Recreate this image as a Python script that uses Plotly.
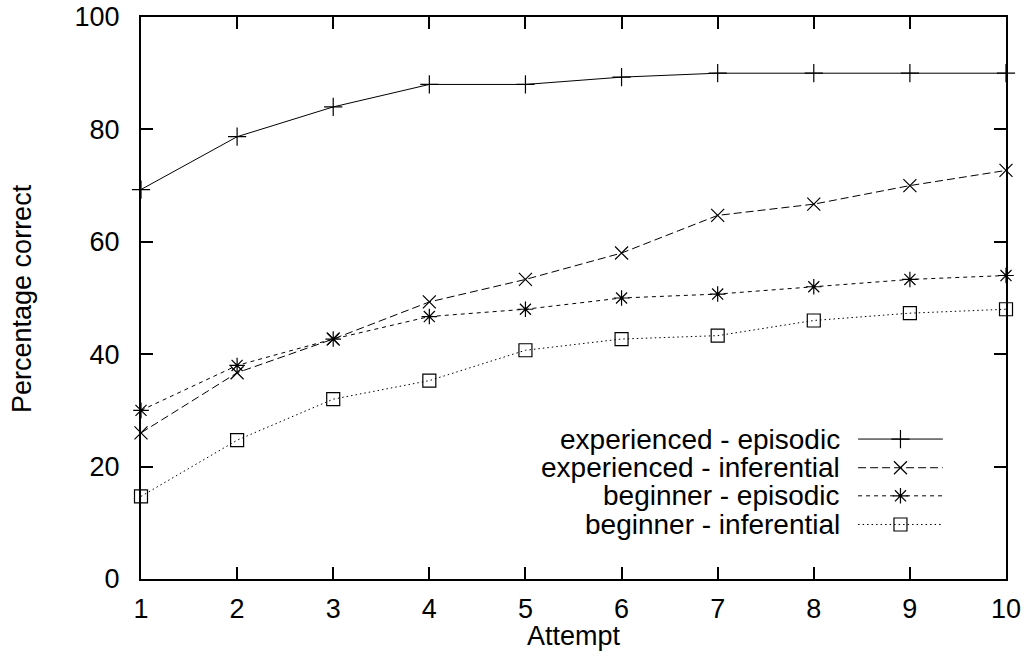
import plotly.graph_objects as go

attempts = [1, 2, 3, 4, 5, 6, 7, 8, 9, 10]
exp_episodic = [69.3, 78.7, 84.0, 88.0, 88.0, 89.3, 90.0, 90.0, 90.0, 90.0]
exp_inferential = [26.0, 36.7, 42.7, 49.3, 53.3, 58.0, 64.7, 66.7, 70.0, 72.7]
beg_episodic = [30.0, 38.0, 42.7, 46.7, 48.0, 50.0, 50.7, 52.0, 53.3, 54.0]
beg_inferential = [14.7, 24.7, 32.0, 35.3, 40.7, 42.7, 43.3, 46.0, 47.3, 48.0]

series_names = ["experienced - episodic", "experienced - inferential",
                "beginner - episodic", "beginner - inferential"]
series_values = [exp_episodic, exp_inferential, beg_episodic, beg_inferential]
y_ticks = [0, 20, 40, 60, 80, 100]

dashes = ["solid", "8px,4px", "4px,4px", "1.5px,3px"]
symbols = ["cross-thin-open", "x-thin-open", "asterisk-open", "square-open"]
sizes = [13, 13, 13, 13]

FONT = "Liberation Sans, Arial, Helvetica, sans-serif"
fig = go.Figure()

for name, vals, d, s, sz in zip(series_names, series_values, dashes, symbols, sizes):
    fig.add_trace(go.Scatter(
        x=attempts, y=vals, name=name, mode="lines+markers",
        line=dict(color="black", width=1, dash=d),
        marker=dict(symbol=s, size=sz, color="black", line=dict(color="black", width=1.2)),
        showlegend=False, cliponaxis=False,
    ))

# hand-made legend (text left, sample right) on an overlay axis [0,1]
leg_rows = [0.249, 0.198, 0.148, 0.097]
leg_x0, leg_x1, leg_text_x = 0.829, 0.927, 0.809
for name, d, s, sz, ly in zip(series_names, dashes, symbols, sizes, leg_rows):
    fig.add_trace(go.Scatter(
        x=[leg_x0, leg_x1], y=[ly, ly], mode="lines", xaxis="x2", yaxis="y2",
        line=dict(color="black", width=1, dash=d), showlegend=False, hoverinfo="skip"))
    fig.add_trace(go.Scatter(
        x=[(leg_x0 + leg_x1) / 2], y=[ly], mode="markers", xaxis="x2", yaxis="y2",
        marker=dict(symbol=s, size=sz, color="black", line=dict(color="black", width=1.2)),
        showlegend=False, hoverinfo="skip"))
    fig.add_annotation(x=leg_text_x, y=ly, xref="x2", yref="y2", text=name,
                       showarrow=False, xanchor="right", yanchor="middle",
                       borderpad=0,
                       font=dict(family=FONT, size=28, color="black"))

fig.add_annotation(x=0.5, y=-0.1014, xref="paper", yref="paper", text="Attempt",
                   showarrow=False, xanchor="center", yanchor="middle",
                   font=dict(family=FONT, size=27, color="black"))
fig.add_annotation(x=-0.1376, y=0.5, xref="paper", yref="paper", text="Percentage correct",
                   showarrow=False, xanchor="center", yanchor="middle", textangle=-90,
                   font=dict(family=FONT, size=27, color="black"))

axis_common = dict(showgrid=False, zeroline=False, showline=True, linecolor="black",
                   linewidth=2, mirror="ticks", ticks="inside", ticklen=12,
                   tickwidth=1.5, tickcolor="black", automargin=False,
                   tickfont=dict(family=FONT, size=27, color="black"))

fig.update_layout(
    template="none",
    width=1024, height=658,
    margin=dict(l=141, r=18, t=17, b=79, autoexpand=False),
    paper_bgcolor="white", plot_bgcolor="white",
    xaxis=dict(range=[1, 10], tickvals=attempts, ticklabelstandoff=5, **axis_common),
    yaxis=dict(range=[0, 100], tickvals=y_ticks, ticklabelstandoff=14, **axis_common),
    xaxis2=dict(range=[0, 1], overlaying="x", visible=False),
    yaxis2=dict(range=[0, 1], overlaying="y", visible=False),
    showlegend=False,
)

fig.write_html("out.html")
